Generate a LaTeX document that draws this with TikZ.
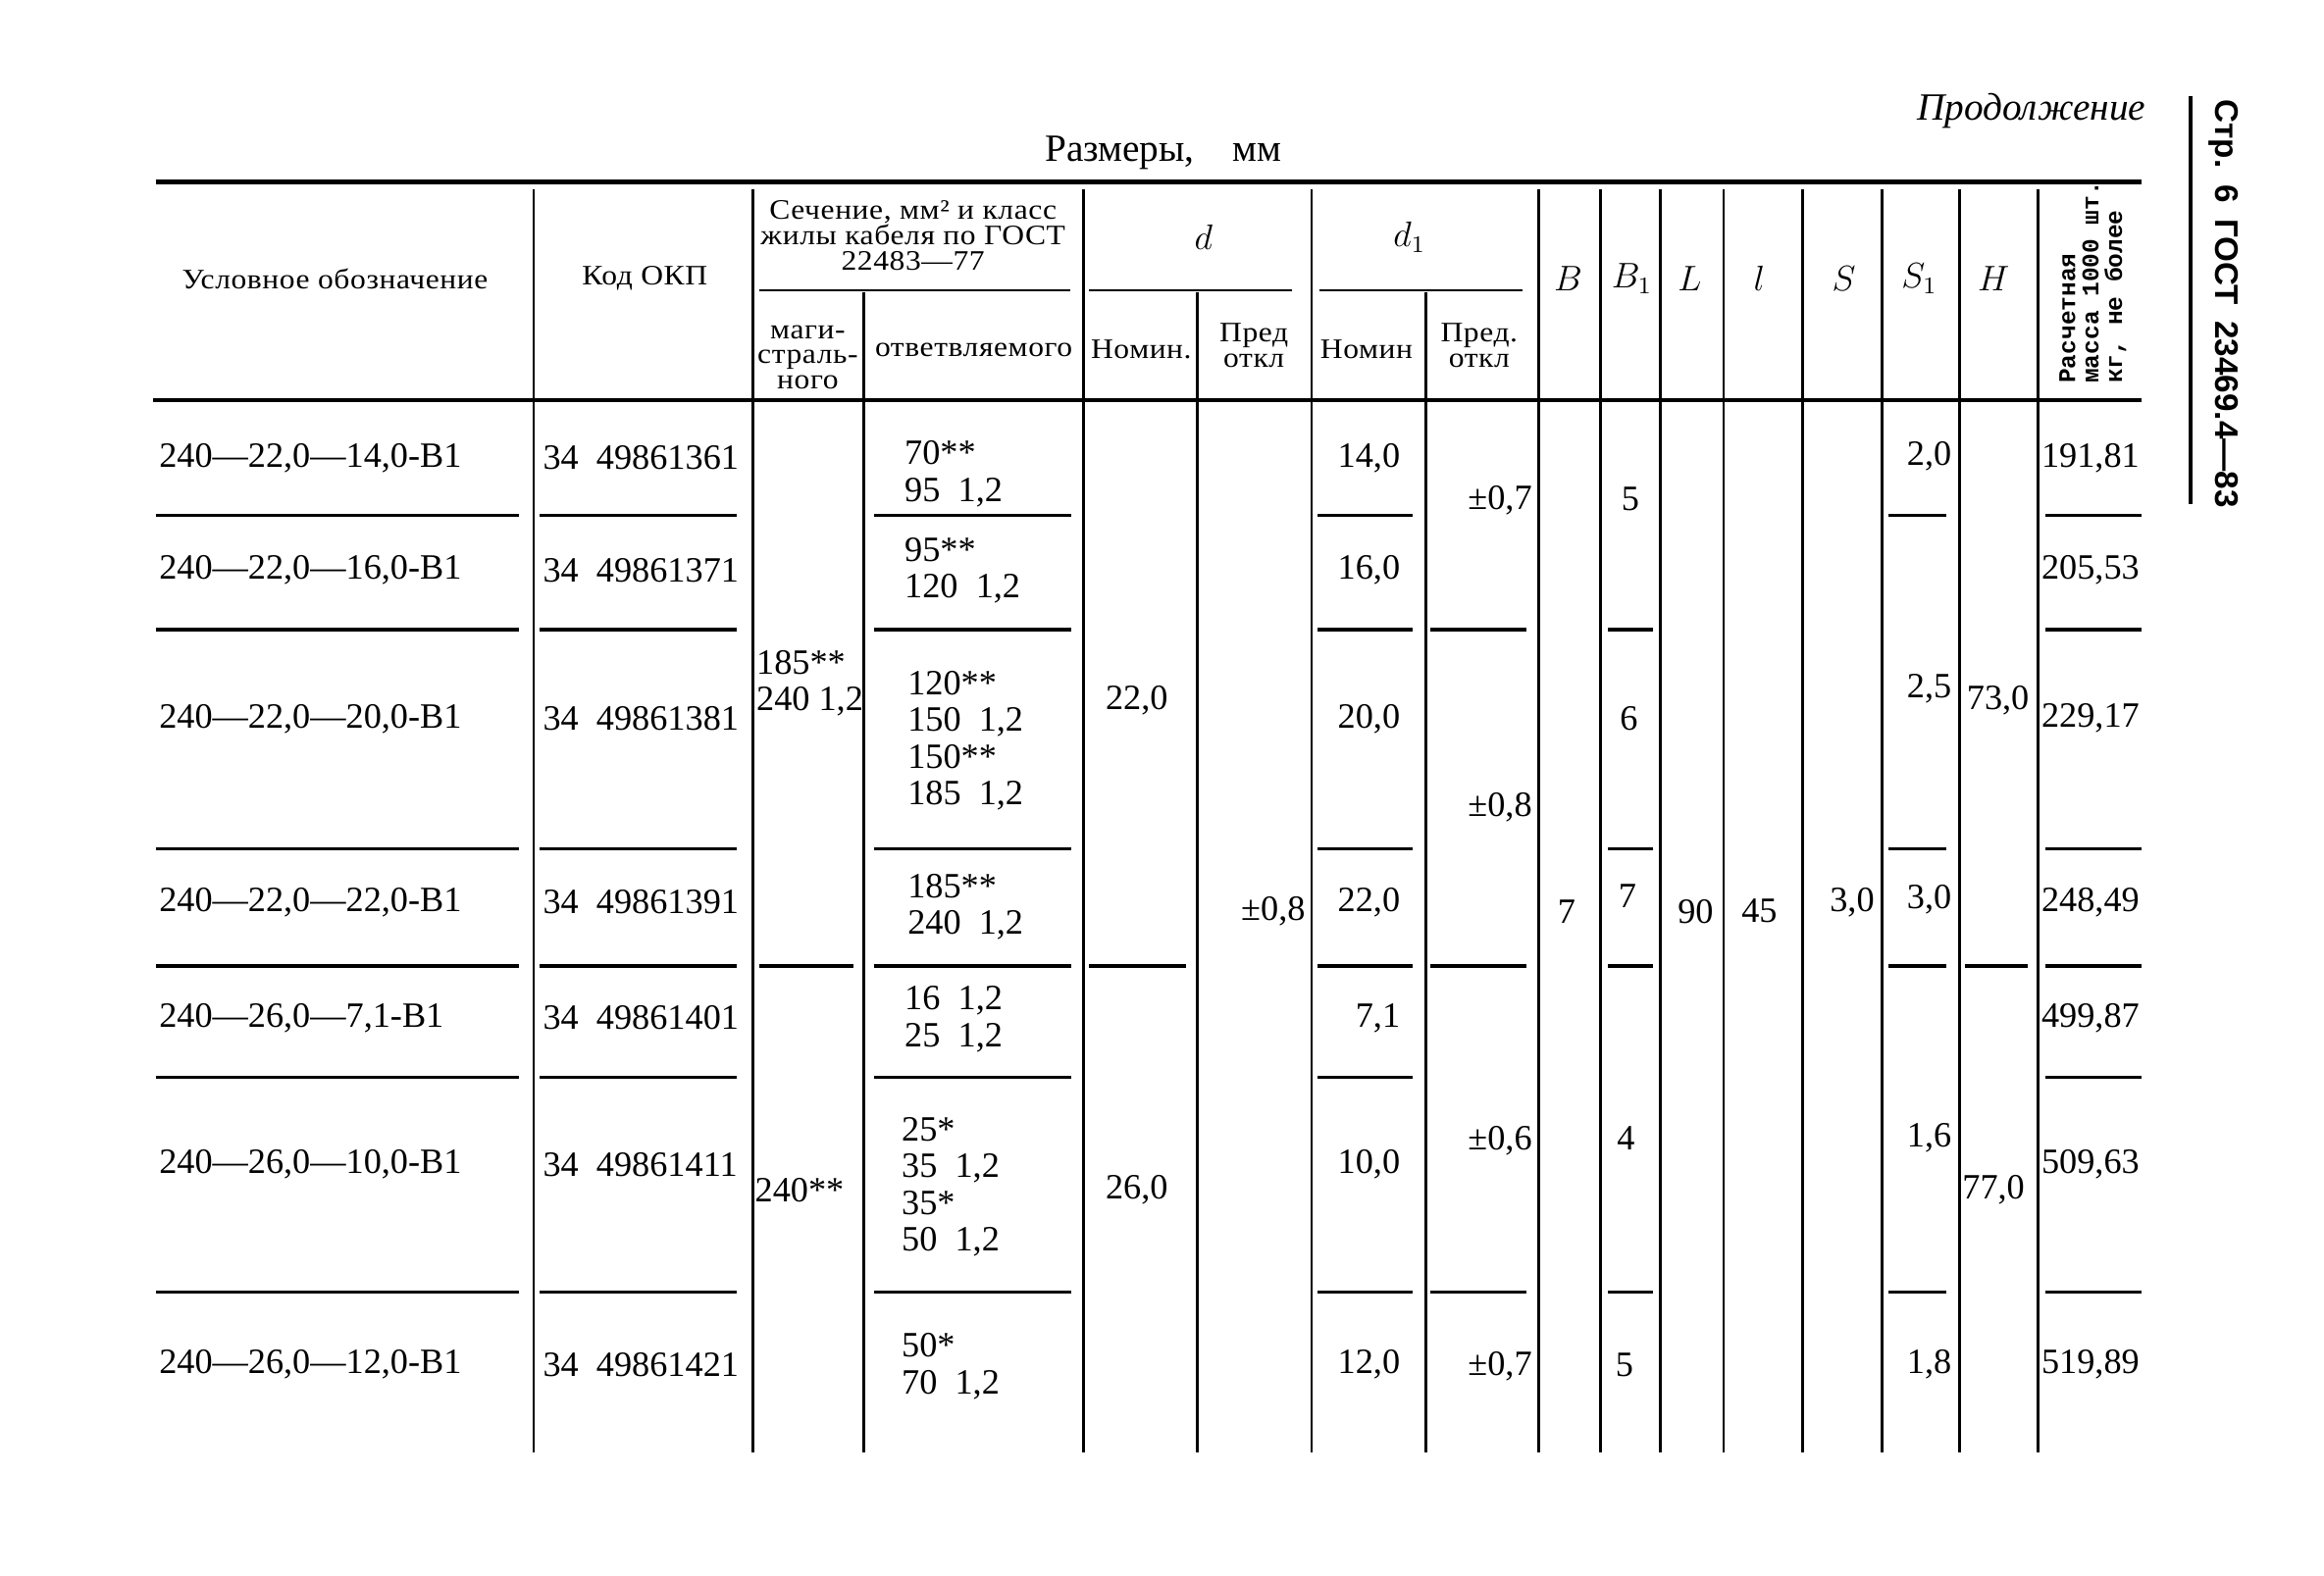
\documentclass[tikz,border=0pt]{standalone}
\usepackage{fontspec}
\setmainfont{Liberation Serif}
\newfontfamily\hdfamily{Liberation Serif}[FakeStretch=1.1,LetterSpace=2]
\newfontfamily\massfamily{Liberation Mono}
\newfontfamily\pagefamily{Liberation Sans}
\tikzstyle{hdr} = [inner sep=0pt, align=center, font=\hdfamily\fontsize{9.5}{8.5}\selectfont]
\tikzstyle{sym} = [inner sep=0pt, font=\fontsize{12}{12}\selectfont]
\tikzstyle{val} = [inner sep=0pt, align=left, font=\fontsize{12}{12.4}\selectfont]
\tikzstyle{grid} = [line width=0.9pt]
\tikzstyle{rowline} = [line width=1.1pt]
\tikzstyle{heavy} = [line width=1.6pt]

\begin{document}
\begin{tikzpicture}[x=0.5pt,y=-0.5pt]
        \fill[white] (0,0) rectangle (1568,1063);

        % titles above the table
        \node[anchor=east, inner sep=0pt, font=\itshape\fontsize{13}{13}\selectfont] (cont) at (1448,75) {Продолжение};
        \node[inner sep=0pt, font=\fontsize{13}{13}\selectfont] (dims) at (785,103) {Размеры,\quad мм};
        \node[rotate=-90, inner sep=0pt, font=\pagefamily\bfseries\fontsize{11}{11}\selectfont] (page) at (1500,205) {Стр.\enspace 6\enspace ГОСТ\enspace 23469.4—83};
        \draw[heavy] (1478,65) -- (1478,340);

        % rules and column lines
        \draw[heavy] (105,123) -- (1445,123);
        \draw[heavy] (103,270) -- (1445,270);
        \draw[grid] (512,196) -- (722,196) (735,196) -- (872,196) (890,196) -- (1027,196);
        \foreach \x in {360,508,731,885,1038,1080,1120,1163,1216,1270,1322,1375}
            \draw[grid] (\x,128) -- (\x,980);
        \foreach \x in {583,808,962}
            \draw[grid] (\x,197) -- (\x,980);

        % header cells
        \node[hdr] (hmark) at (226,188) {Условное обозначение};
        \node[hdr] (hcode) at (435,188) {Код ОКП};
        \node[hdr] (hsect) at (616,159) {Сечение, мм² и класс\\жилы кабеля по ГОСТ\\22483—77};
        \node[hdr] (hmain) at (545,241) {маги-\\страль-\\ного};
        \node[hdr] (hbranch) at (657,236) {ответвляемого};
        \node[sym] (hd) at (812,160) {$d$};
        \node[sym] (hdone) at (951,160) {$d_1$};
        \node[hdr] (hdnom) at (770,236) {Номин.};
        \node[hdr] (hdtol) at (846,233) {Пред\\откл};
        \node[hdr] (hdonenom) at (922,236) {Номин};
        \node[hdr] (hdonetol) at (998,233) {Пред.\\откл};
        \node[sym] (hB) at (1058,188) {$B$};
        \node[sym] (hBone) at (1101,188) {$B_1$};
        \node[sym] (hL) at (1140,188) {$L$};
        \node[sym] (hl) at (1187,188) {$l$};
        \node[sym] (hS) at (1244,188) {$S$};
        \node[sym] (hSone) at (1295,188) {$S_1$};
        \node[sym] (hH) at (1345,188) {$H$};
        \node[rotate=90, anchor=west, inner sep=0pt, align=left,
              font=\massfamily\bfseries\fontsize{8.1}{7.9}\selectfont] (hmass) at (1412,259)
              {Расчетная\\масса 1000 шт.\\кг, не более};

        % one line of values per row
        \foreach \i/\y/\mk/\cd/\dn/\ms in {
            1/309/{240—22,0—14,0-В1}/{34\enspace 49861361}/{14,0}/{191,81},
            2/385/{240—22,0—16,0-В1}/{34\enspace 49861371}/{16,0}/{205,53},
            3/485/{240—22,0—20,0-В1}/{34\enspace 49861381}/{20,0}/{229,17},
            4/609/{240—22,0—22,0-В1}/{34\enspace 49861391}/{22,0}/{248,49},
            5/687/{240—26,0—7,1-В1}/{34\enspace 49861401}/{7,1}/{499,87},
            6/786/{240—26,0—10,0-В1}/{34\enspace 49861411}/{10,0}/{509,63},
            7/921/{240—26,0—12,0-В1}/{34\enspace 49861421}/{12,0}/{519,89}} {
            \node[val, anchor=west] (mark\i) at (107,\y) {\mk};
            \node[val, anchor=west] (code\i) at (366,\y) {\cd};
            \node[val, anchor=east] (dnom\i) at (945,\y) {\dn};
            \node[val, anchor=west] (mass\i) at (1377,\y) {\ms};
        }

        % cable sections
        \node[val, anchor=west] (main1) at (510,461) {185**\\240 1,2};
        \node[val, anchor=west] (main2) at (509,803) {240**};
        \node[val, anchor=west] (branch1) at (610,320) {70**\\95\ \ 1,2};
        \node[val, anchor=west] (branch2) at (610,385) {95**\\120\ \ 1,2};
        \node[val, anchor=west] (branch3) at (612,500) {120**\\150\ \ 1,2\\150**\\185\ \ 1,2};
        \node[val, anchor=west] (branch4) at (612,612) {185**\\240\ \ 1,2};
        \node[val, anchor=west] (branch5) at (610,688) {16\ \ 1,2\\25\ \ 1,2};
        \node[val, anchor=west] (branch6) at (608,801) {25*\\35\ \ 1,2\\35*\\50\ \ 1,2};
        \node[val, anchor=west] (branch7) at (608,922) {50*\\70\ \ 1,2};

        % d, d1 and the rest
        \node[val] (dd1) at (767,473) {22,0};
        \node[val] (dd2) at (767,803) {26,0};
        \node[val, anchor=east] (dtol) at (881,615) {±0,8};
        \node[val, anchor=east] (tol1) at (1034,338) {±0,7};
        \node[val, anchor=east] (tol2) at (1034,545) {±0,8};
        \node[val, anchor=east] (tol3) at (1034,770) {±0,6};
        \node[val, anchor=east] (tol4) at (1034,922) {±0,7};
        \node[val] (B) at (1057,615) {7};
        \node[val] (Bone1) at (1100,337) {5};
        \node[val] (Bone2) at (1099,485) {6};
        \node[val] (Bone3) at (1098,605) {7};
        \node[val] (Bone4) at (1097,768) {4};
        \node[val] (Bone5) at (1096,921) {5};
        \node[val] (L) at (1144,615) {90};
        \node[val] (l) at (1187,615) {45};
        \node[val, anchor=east] (S) at (1265,609) {3,0};
        \node[val, anchor=east] (Sone1) at (1317,308) {2,0};
        \node[val, anchor=east] (Sone2) at (1317,465) {2,5};
        \node[val, anchor=east] (Sone3) at (1317,607) {3,0};
        \node[val, anchor=east] (Sone4) at (1317,768) {1,6};
        \node[val, anchor=east] (Sone5) at (1317,921) {1,8};
        \node[val] (H1) at (1348,473) {73,0};
        \node[val] (H2) at (1345,803) {77,0};

        % row separators, cell by cell
        \foreach \a/\b in {105/350,364/497,590/723,889/953,1274/1313,1380/1445}
            \draw[rowline] (\a,348) -- (\b,348);
        \foreach \a/\b in {105/350,364/497,590/723,889/953,965/1030,1085/1115,1380/1445}
            \draw[rowline] (\a,425) -- (\b,425);
        \foreach \a/\b in {105/350,364/497,590/723,889/953,1085/1115,1274/1313,1380/1445}
            \draw[rowline] (\a,573) -- (\b,573);
        \foreach \a/\b in {105/350,364/497,512/576,590/723,735/800,889/953,965/1030,1085/1115,1274/1313,1326/1368,1380/1445}
            \draw[rowline] (\a,652) -- (\b,652);
        \foreach \a/\b in {105/350,364/497,590/723,889/953,1380/1445}
            \draw[rowline] (\a,727) -- (\b,727);
        \foreach \a/\b in {105/350,364/497,590/723,889/953,965/1030,1085/1115,1274/1313,1380/1445}
            \draw[rowline] (\a,872) -- (\b,872);
      \end{tikzpicture}
\end{document}
